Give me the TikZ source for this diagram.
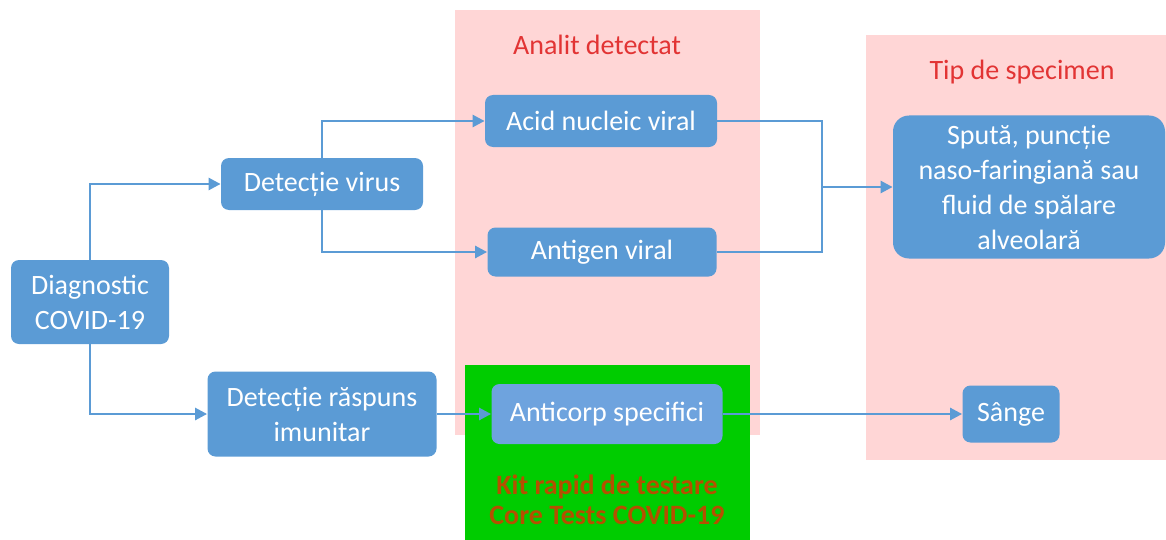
\documentclass[tikz,border=0pt]{standalone}
\usepackage{fontspec}
\setmainfont{Carlito}
\usetikzlibrary{positioning, calc, arrows.meta}
\definecolor{boxblue}{RGB}{91,155,213}
\definecolor{boxlight}{RGB}{110,163,222}
\definecolor{zonepink}{RGB}{255,214,214}
\definecolor{kitgreen}{RGB}{0,204,0}
\definecolor{titlered}{RGB}{226,52,52}
\definecolor{kitorange}{RGB}{180,80,0}

\begin{document}
\begin{tikzpicture}[x=0.5pt, y=-0.5pt,
	box/.style={fill=boxblue, text=white, rounded corners=4pt, align=center,
		font=\fontsize{14}{17.5}\selectfont, inner sep=2pt},
	link/.style={draw=boxblue, line width=1.3pt, -{Triangle[length=6pt,width=6pt]}},
	zonetitle/.style={text=titlered, font=\fontsize{14}{17}\selectfont}]
	\useasboundingbox (0,0) rectangle (1166,540);
	% background zones
	\fill[zonepink] (455,10) rectangle (760,435);
	\fill[zonepink] (866,35) rectangle (1166,460);
	\fill[kitgreen] (465,365) rectangle (750,540);
	\node[zonetitle] (analit) at (597,45) {Analit detectat};
	\node[zonetitle] (specimen) at (1022,72) {Tip de specimen};
	\node[text=kitorange, align=center, font=\bfseries\fontsize{14}{15}\selectfont] (kit) at (607,500)
		{Kit rapid de testare\\Core Tests COVID-19};
	% boxes
	\node[box, minimum width=79pt, minimum height=42pt] (diag) at (90,302) {Diagnostic\\COVID-19};
	\node[box, minimum width=101pt, minimum height=26pt] (virus) at (322,184) {Detecție virus};
	\node[box, minimum width=114.5pt, minimum height=42.5pt] (immune) at (322,414) {Detecție răspuns\\imunitar};
	\node[box, minimum width=116pt, minimum height=26pt] (acid) at (601,121) {Acid nucleic viral};
	\node[box, minimum width=114.5pt, minimum height=24.5pt] (antigen) at (602,252) {Antigen viral};
	\node[box, fill=boxlight, minimum width=115.5pt, minimum height=30pt] (anticorp) at (607,414) {Anticorp specifici};
	\node[box, rounded corners=8pt, minimum width=136pt, minimum height=71.5pt] (sputa) at (1029,187)
		{Spută, puncție\\naso-faringiană sau\\fluid de spălare\\alveolară};
	\node[box, minimum width=48.5pt, minimum height=28.5pt] (sange) at (1011,414) {Sânge};
	\coordinate (merge) at (822,187);
	% connectors
	\foreach \from/\to in {diag.north/virus.west, diag.south/immune.west, virus.north/acid.west, virus.south/antigen.west}
		\draw[link] (\from) |- (\to);
	\foreach \from in {acid, antigen}
		\draw[boxblue, line width=1.3pt] (\from.east) -| (merge);
	\draw[link] (merge) -- (sputa.west);
	\draw[link] (immune) -- (anticorp);
	\draw[link] (anticorp) -- (sange);
\end{tikzpicture}
\end{document}
